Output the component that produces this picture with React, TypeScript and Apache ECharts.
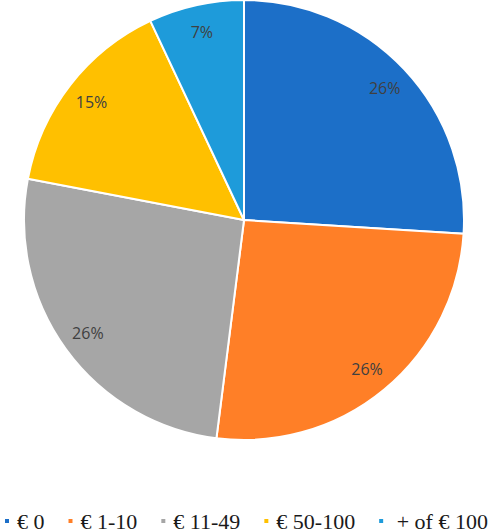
import React, { useEffect, useRef } from "react";
import * as echarts from "echarts";

const categories = ["€ 0", "€ 1-10", "€ 11-49", "€ 50-100", " + of € 100"];
const values = [26, 26, 26, 15, 7];
const colors = ["#1C6FC8", "#FF7F27", "#A6A6A6", "#FFC000", "#1E9BDA"];

export default function App() {
  const ref = useRef<HTMLDivElement>(null);
  useEffect(() => {
    document.body.style.margin = "0";
    const chart = echarts.init(ref.current!, null, { renderer: "svg" });
    const data = categories.map((c, i) => ({ name: c, value: values[i], itemStyle: { color: colors[i] } }));
    chart.setOption({
      animation: false,
      legend: {
        bottom: 0,
        left: 0,
        padding: [0, 3, 0, 3],
        itemWidth: 6,
        itemHeight: 6,
        itemGap: 22,
        icon: "rect",
        textStyle: {
          fontFamily: "'Liberation Serif', 'Times New Roman', serif",
          fontSize: 22,
          color: "#1a1a1a",
          padding: [0, 0, 0, 2],
        },
        data: categories,
      },
      series: [
        {
          type: "pie",
          center: [244, 220],
          radius: [0, 220],
          startAngle: 90,
          clockwise: true,
          silent: true,
          itemStyle: { borderColor: "#fff", borderWidth: 2 },
          label: { show: false },
          labelLine: { show: false },
          data,
        },
        {
          type: "pie",
          center: [244, 220],
          radius: [160, 220],
          startAngle: 90,
          clockwise: true,
          silent: true,
          itemStyle: { color: "transparent", borderWidth: 0 },
          label: {
            show: true,
            position: "inside",
            formatter: "{c}%",
            fontFamily: "'Open Sans'",
            fontSize: 16,
            color: "#404040",
          },
          labelLine: { show: false },
          data: categories.map((c, i) => ({ name: c + "_", value: values[i] })),
        },
      ],
    });
    return () => chart.dispose();
  }, []);
  return <div ref={ref} style={{ width: 498, height: 532 }} />;
}
